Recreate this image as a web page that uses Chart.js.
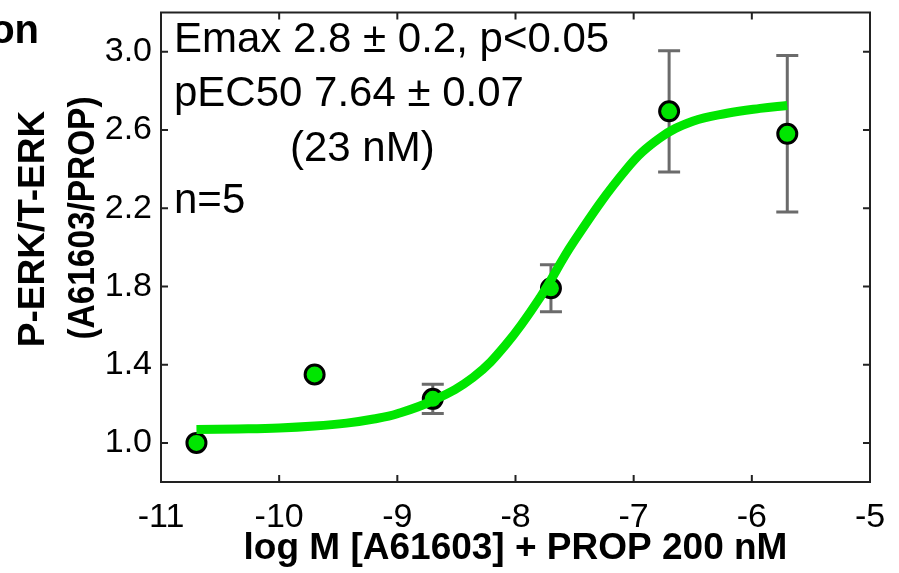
<!DOCTYPE html>
<html>
<head>
<meta charset="utf-8">
<script src="https://cdn.jsdelivr.net/npm/chart.js@4.4.1/dist/chart.umd.min.js"></script>
<style>
  html, body { margin: 0; padding: 0; background: #fff; }
  #wrap { width: 899px; height: 573px; }
</style>
</head>
<body>
<div id="wrap"><canvas id="c" width="899" height="573"></canvas></div>
<script>
// measured points (mean +/- SEM)
const doseLogM = [-10.7, -9.7, -8.7, -7.7, -6.7, -5.7];
const meanResponse = [1.0, 1.35, 1.225, 1.79, 2.695, 2.58];
const semResponse = [0, 0, 0.075, 0.12, 0.31, 0.40];

// fitted curve
const fitLogM = [-10.7, -10.35, -10.0, -9.7, -9.43, -9.2, -9.0, -8.7, -8.36, -8.08, -7.79, -7.51, -7.06, -6.78, -6.5, -6.21, -5.93, -5.7];
const fitResponse = [1.068, 1.071, 1.076, 1.086, 1.101, 1.122, 1.149, 1.216, 1.334, 1.503, 1.745, 2.026, 2.40, 2.558, 2.644, 2.685, 2.71, 2.725];

const xTicks = [-11, -10, -9, -8, -7, -6, -5];
const yTicks = [1.0, 1.4, 1.8, 2.2, 2.6, 3.0];

const FONT = "'Liberation Sans', Arial, sans-serif";
const GREEN = '#00e600';

const extras = {
  id: 'extras',
  beforeDatasetsDraw(chart) {
    const { ctx, scales: { x, y } } = chart;
    ctx.save();
    ctx.strokeStyle = '#6b6b6b';
    ctx.lineWidth = 3;
    doseLogM.forEach((d, i) => {
      const s = semResponse[i];
      if (!s) return;
      const px = x.getPixelForValue(d);
      const top = y.getPixelForValue(meanResponse[i] + s);
      const bot = y.getPixelForValue(meanResponse[i] - s);
      ctx.beginPath();
      ctx.moveTo(px, top); ctx.lineTo(px, bot);
      ctx.moveTo(px - 11, top); ctx.lineTo(px + 11, top);
      ctx.moveTo(px - 11, bot); ctx.lineTo(px + 11, bot);
      ctx.stroke();
    });
    ctx.restore();
  },
  afterDraw(chart) {
    const { ctx, chartArea: a, scales: { x, y } } = chart;
    ctx.save();
    // frame + inward ticks
    ctx.strokeStyle = '#222';
    ctx.lineWidth = 2;
    ctx.strokeRect(a.left, a.top, a.right - a.left, a.bottom - a.top);
    ctx.beginPath();
    xTicks.slice(1, -1).forEach(v => {
      const px = x.getPixelForValue(v);
      ctx.moveTo(px, a.bottom); ctx.lineTo(px, a.bottom - 7);
      ctx.moveTo(px, a.top); ctx.lineTo(px, a.top + 7);
    });
    yTicks.forEach(v => {
      const py = y.getPixelForValue(v);
      ctx.moveTo(a.left, py); ctx.lineTo(a.left + 7, py);
      ctx.moveTo(a.right, py); ctx.lineTo(a.right - 7, py);
    });
    ctx.stroke();

    // annotations
    ctx.fillStyle = '#000';
    ctx.textBaseline = 'alphabetic';
    ctx.textAlign = 'left';
    ctx.font = '42px ' + FONT;
    ctx.fillText('Emax 2.8 \u00b1 0.2, p<0.05', 174, 52);
    ctx.fillText('pEC50 7.64 \u00b1 0.07', 174, 106);
    ctx.fillText('(23 nM)', 290, 161);
    ctx.fillText('n=5', 174, 213);

    // clipped title fragment at top left
    ctx.font = 'bold 40px ' + FONT;
    ctx.textAlign = 'right';
    ctx.fillText('on', 39, 43);

    // y axis title (two lines, rotated)
    ctx.save();
    ctx.translate(44, 229);
    ctx.rotate(-Math.PI / 2);
    ctx.textAlign = 'center';
    ctx.font = 'bold 37px ' + FONT;
    ctx.fillText('P-ERK/T-ERK', 0, 0);
    ctx.restore();
    ctx.save();
    ctx.translate(94, 218);
    ctx.rotate(-Math.PI / 2);
    ctx.textAlign = 'center';
    ctx.font = 'bold 37px ' + FONT;
    ctx.fillText('(A61603/PROP)', 0, 0, 243);
    ctx.restore();
    ctx.restore();
  }
};

new Chart(document.getElementById('c'), {
  type: 'scatter',
  data: {
    datasets: [
      {
        label: 'fit',
        data: fitLogM.map((v, i) => ({ x: v, y: fitResponse[i] })),
        showLine: true,
        borderColor: GREEN,
        borderWidth: 9,
        pointRadius: 0,
        tension: 0.4,
        fill: false,
      },
      {
        label: 'data',
        data: doseLogM.map((v, i) => ({ x: v, y: meanResponse[i] })),
        showLine: false,
        backgroundColor: GREEN,
        borderColor: '#000',
        borderWidth: 3,
        pointRadius: 9.5,
        pointHoverRadius: 9.5,
      },
    ],
  },
  options: {
    responsive: false,
    animation: false,
    devicePixelRatio: 1,
    layout: { padding: { top: 8, right: 29, left: 0, bottom: 0 } },
    plugins: { legend: { display: false }, tooltip: { enabled: false } },
    scales: {
      x: {
        type: 'linear',
        min: -11,
        max: -5,
        afterBuildTicks: s => { s.ticks = xTicks.map(v => ({ value: v })); },
        afterFit: s => { s.height = 91; s.paddingLeft = 0; s.paddingRight = 0; },
        grid: { display: false, drawTicks: false },
        border: { display: false },
        ticks: {
          color: '#000',
          font: { family: FONT, size: 34 },
          padding: 15,
          maxRotation: 0,
          callback: v => String(v),
        },
        title: {
          display: true,
          text: 'log M [A61603] + PROP 200 nM',
          color: '#000',
          font: { family: FONT, size: 37, weight: 'bold' },
          padding: { top: 0, bottom: 2 },
        },
      },
      y: {
        min: 0.8,
        max: 3.2,
        afterBuildTicks: s => { s.ticks = yTicks.map(v => ({ value: v })); },
        afterFit: s => { s.width = 161; s.paddingTop = 0; s.paddingBottom = 0; },
        grid: { display: false, drawTicks: false },
        border: { display: false },
        ticks: {
          color: '#000',
          font: { family: FONT, size: 34 },
          padding: 9,
          callback: v => v.toFixed(1),
        },
      },
    },
  },
  plugins: [extras],
});
</script>
</body>
</html>
